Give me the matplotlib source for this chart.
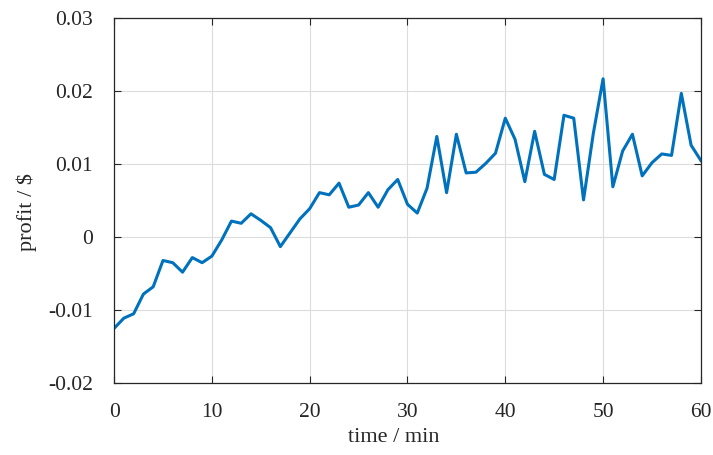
import matplotlib.pyplot as plt
import numpy as np

# profit per minute
time_min = np.arange(0, 61)
profit = [
    -0.0125, -0.0111, -0.0105, -0.0078, -0.0068, -0.0032, -0.0035, -0.0048, -0.0028, -0.0035,
    -0.0026, -0.0004, 0.0022, 0.0019, 0.0032, 0.0023, 0.0013, -0.0013, 0.0006, 0.0025,
    0.0039, 0.0061, 0.0058, 0.0074, 0.0041, 0.0044, 0.0061, 0.0041, 0.0065, 0.0079,
    0.0045, 0.0033, 0.0067, 0.0138, 0.0061, 0.0141, 0.0088, 0.0089, 0.0101, 0.0115,
    0.0163, 0.0134, 0.0076, 0.0145, 0.0086, 0.0079, 0.0167, 0.0163, 0.0051, 0.0142,
    0.0217, 0.0069, 0.0118, 0.0141, 0.0084, 0.0102, 0.0114, 0.0112, 0.0197, 0.0126,
    0.0105,
]
xticks = [0, 10, 20, 30, 40, 50, 60]
yticks = [-0.02, -0.01, 0, 0.01, 0.02, 0.03]
ytick_labels = ['-0.02', '-0.01', '0', '0.01', '0.02', '0.03']

plt.rcParams['font.family'] = ['Liberation Serif', 'DejaVu Serif']

fig = plt.figure(figsize=(7.13, 4.55), dpi=100)
ax = fig.add_axes([0.160, 0.158, 0.823, 0.802])

ax.plot(time_min, profit, color='#0072BD', linewidth=2.2)

ax.set_xlim(0, 60)
ax.set_ylim(-0.02, 0.03)
ax.set_xticks(xticks)
ax.set_yticks(yticks)
ax.set_yticklabels(ytick_labels)
ax.grid(True, color='#dcdcdc', linewidth=0.8)
ax.set_axisbelow(True)

ax.tick_params(direction='in', top=True, right=True, length=5, width=0.8,
               labelsize=15.5, colors='#262626')
ax.tick_params(axis='x', pad=14)
ax.tick_params(axis='y', pad=15)
for s in ax.spines.values():
    s.set_color('#262626')
    s.set_linewidth(0.9)

ax.set_xlabel('time / min', fontsize=16, color='#262626')
ax.set_ylabel(r'profit / \$', fontsize=16, color='#262626')
ax.xaxis.set_label_coords(0.477, -0.122)
ax.yaxis.set_label_coords(-0.131, 0.468)

plt.savefig('out.png', dpi=100)
